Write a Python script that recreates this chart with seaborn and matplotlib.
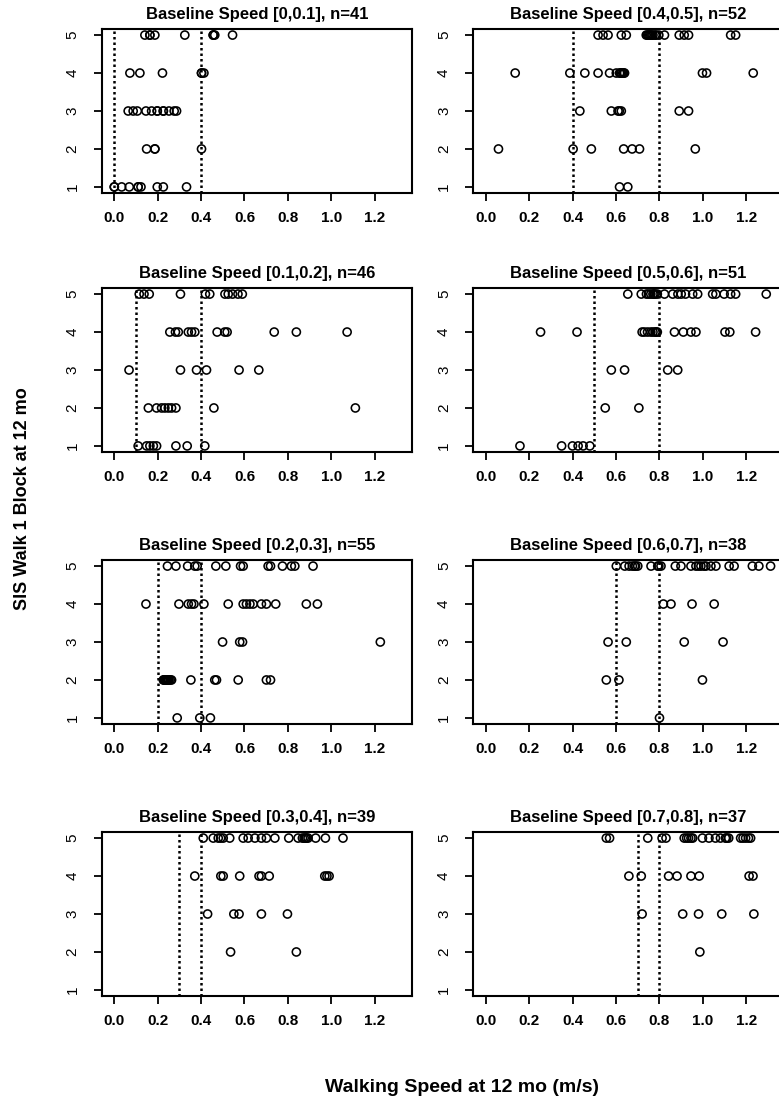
#Librerías
import pandas as pd
import numpy as np
import seaborn as sns
import matplotlib.pyplot as plt

sns.set_style("white")
plt.rcParams['font.family'] = ['Liberation Sans', 'DejaVu Sans']
plt.rcParams['text.color'] = 'black'
plt.rcParams['xtick.color'] = 'black'
plt.rcParams['ytick.color'] = 'black'

#Datos: velocidad a 12 meses por nivel SIS, por grupo de velocidad basal
# Baseline [0,0.1]
b1_sis5 = [0.141, 0.164, 0.164, 0.187, 0.325, 0.456, 0.456, 0.463, 0.545]
b1_sis4 = [0.072, 0.118, 0.222, 0.402, 0.402, 0.413]
b1_sis3 = [0.064, 0.087, 0.106, 0.146, 0.172, 0.198, 0.198, 0.226, 0.226, 0.252, 0.276, 0.287]
b1_sis2 = [0.149, 0.187, 0.187, 0.402]
b1_sis1 = [0.0, 0.0, 0.034, 0.069, 0.11, 0.11, 0.123, 0.198, 0.226, 0.333]

# Baseline [0.1,0.2]
b2_sis5 = [0.115, 0.137, 0.161, 0.305, 0.42, 0.44, 0.51, 0.525, 0.545, 0.57, 0.59]
b2_sis4 = [0.256, 0.282, 0.295, 0.341, 0.356, 0.371, 0.474, 0.509, 0.52, 0.737, 0.839, 1.073]
b2_sis3 = [0.068, 0.305, 0.379, 0.425, 0.575, 0.666]
b2_sis2 = [0.157, 0.195, 0.218, 0.233, 0.249, 0.264, 0.284, 0.459, 1.111]
b2_sis1 = [0.11, 0.149, 0.164, 0.18, 0.195, 0.284, 0.336, 0.417]

# Baseline [0.2,0.3]
b3_sis5 = [0.245, 0.284, 0.338, 0.371, 0.382, 0.468, 0.514, 0.582, 0.594, 0.709, 0.72, 0.775, 0.816, 0.832, 0.916]
b3_sis4 = [0.146, 0.298, 0.341, 0.356, 0.367, 0.413, 0.525, 0.594, 0.609, 0.625, 0.64, 0.678, 0.701, 0.744, 0.885, 0.936]
b3_sis3 = [0.499, 0.578, 0.591, 1.226]
b3_sis2 = [0.226, 0.229, 0.232, 0.235, 0.238, 0.242, 0.245, 0.249, 0.252, 0.258, 0.264, 0.353, 0.463, 0.471, 0.571, 0.701, 0.72]
b3_sis1 = [0.29, 0.394, 0.443]

# Baseline [0.3,0.4]
b4_sis5 = [0.41, 0.456, 0.479, 0.49, 0.502, 0.532, 0.594, 0.617, 0.648, 0.678, 0.701, 0.74, 0.804, 0.847, 0.867, 0.875, 0.882, 0.886, 0.893, 0.928, 0.973, 1.054]
b4_sis4 = [0.371, 0.491, 0.502, 0.578, 0.667, 0.678, 0.714, 0.97, 0.98, 0.99]
b4_sis3 = [0.43, 0.551, 0.575, 0.678, 0.798]
b4_sis2 = [0.536, 0.839]
b4_sis1 = []

# Baseline [0.4,0.5]
b5_sis5 = [0.517, 0.54, 0.563, 0.624, 0.647, 0.739, 0.745, 0.75, 0.755, 0.76, 0.765, 0.77, 0.78, 0.784, 0.797, 0.823, 0.891, 0.914, 0.934, 1.128, 1.151]
b5_sis4 = [0.135, 0.387, 0.456, 0.517, 0.57, 0.601, 0.616, 0.62, 0.625, 0.631, 0.635, 0.639, 0.998, 1.017, 1.232]
b5_sis3 = [0.433, 0.578, 0.609, 0.615, 0.624, 0.891, 0.934]
b5_sis2 = [0.058, 0.402, 0.486, 0.635, 0.674, 0.708, 0.965]
b5_sis1 = [0.616, 0.654]

# Baseline [0.5,0.6]
b6_sis5 = [0.654, 0.716, 0.74, 0.75, 0.76, 0.77, 0.775, 0.78, 0.79, 0.823, 0.861, 0.885, 0.9, 0.92, 0.953, 0.976, 1.045, 1.06, 1.098, 1.128, 1.151, 1.292]
b6_sis4 = [0.252, 0.42, 0.72, 0.73, 0.745, 0.76, 0.77, 0.78, 0.785, 0.79, 0.869, 0.91, 0.945, 0.968, 1.102, 1.124, 1.243]
b6_sis3 = [0.578, 0.639, 0.838, 0.884]
b6_sis2 = [0.55, 0.705]
b6_sis1 = [0.157, 0.349, 0.399, 0.425, 0.448, 0.479]

# Baseline [0.6,0.7]
b7_sis5 = [0.601, 0.64, 0.66, 0.675, 0.685, 0.69, 0.7, 0.761, 0.792, 0.797, 0.807, 0.873, 0.899, 0.945, 0.968, 0.98, 0.991, 1.005, 1.014, 1.037, 1.06, 1.121, 1.144, 1.228, 1.258, 1.312]
b7_sis4 = [0.818, 0.853, 0.95, 1.052]
b7_sis3 = [0.563, 0.647, 0.914, 1.093]
b7_sis2 = [0.555, 0.613, 0.998]
b7_sis1 = [0.8]

# Baseline [0.7,0.8]
b8_sis5 = [0.555, 0.57, 0.746, 0.812, 0.83, 0.914, 0.925, 0.934, 0.945, 0.953, 0.998, 1.028, 1.058, 1.081, 1.104, 1.11, 1.119, 1.174, 1.185, 1.197, 1.21, 1.22]
b8_sis4 = [0.659, 0.716, 0.842, 0.881, 0.945, 0.983, 1.213, 1.231]
b8_sis3 = [0.72, 0.907, 0.98, 1.087, 1.235]
b8_sis2 = [0.986]
b8_sis1 = []

grupos = ["[0,0.1]", "[0.1,0.2]", "[0.2,0.3]", "[0.3,0.4]",
          "[0.4,0.5]", "[0.5,0.6]", "[0.6,0.7]", "[0.7,0.8]"]
n_grupo = [41, 46, 55, 39, 52, 51, 38, 37]
linea_inf = [0.0, 0.1, 0.2, 0.3, 0.4, 0.5, 0.6, 0.7]
linea_sup = [0.4, 0.4, 0.4, 0.4, 0.8, 0.8, 0.8, 0.8]

niveles = [
    [b1_sis1, b1_sis2, b1_sis3, b1_sis4, b1_sis5],
    [b2_sis1, b2_sis2, b2_sis3, b2_sis4, b2_sis5],
    [b3_sis1, b3_sis2, b3_sis3, b3_sis4, b3_sis5],
    [b4_sis1, b4_sis2, b4_sis3, b4_sis4, b4_sis5],
    [b5_sis1, b5_sis2, b5_sis3, b5_sis4, b5_sis5],
    [b6_sis1, b6_sis2, b6_sis3, b6_sis4, b6_sis5],
    [b7_sis1, b7_sis2, b7_sis3, b7_sis4, b7_sis5],
    [b8_sis1, b8_sis2, b8_sis3, b8_sis4, b8_sis5],
]

#Armar un DataFrame largo
filas = []
for g, lista in zip(grupos, niveles):
    for sis, valores in enumerate(lista, start=1):
        for v in valores:
            filas.append({"grupo": g, "velocidad": v, "sis": sis})
datos = pd.DataFrame(filas)

#Figura: 4 filas x 2 columnas (la columna derecha queda cortada como en el original)
fig = plt.figure(figsize=(7.79, 11.03), dpi=100)
W, H = 779, 1103
izq = [101.7, 473.3]
tops = [29, 288, 560, 832]
ancho, alto = 310.3, 164

for i, g in enumerate(grupos):
    col = i // 4
    fila = i % 4
    ax = fig.add_axes([izq[col] / W, 1 - (tops[fila] + alto) / H, ancho / W, alto / H])
    sub = datos[datos["grupo"] == g]
    sns.scatterplot(data=sub, x="velocidad", y="sis", ax=ax, marker="o", s=34,
                    fc="none", ec="black", linewidth=1.15, zorder=3)
    ax.axvline(linea_inf[i], color="black", lw=1.8, ls=(0, (1, 1.2)), zorder=2)
    ax.axvline(linea_sup[i], color="black", lw=1.8, ls=(0, (1, 1.2)), zorder=2)
    ax.set_xlim(-0.058, 1.372)
    ax.set_ylim(0.84, 5.16)
    ax.set_xticks([0.0, 0.2, 0.4, 0.6, 0.8, 1.0, 1.2])
    ax.set_xticklabels(["0.0", "0.2", "0.4", "0.6", "0.8", "1.0", "1.2"], fontweight="bold", fontsize=11)
    ax.set_yticks([1, 2, 3, 4, 5])
    ax.set_yticklabels(["1", "2", "3", "4", "5"], rotation=90, fontsize=11, va="center")
    ax.tick_params(axis="both", bottom=True, left=True, direction="out",
                   length=6, width=1.3, color="black", labelcolor="black")
    ax.tick_params(axis="x", pad=7)
    ax.tick_params(axis="y", pad=10)
    for s in ax.spines.values():
        s.set_color("black")
        s.set_linewidth(1.5)
    ax.set_xlabel("")
    ax.set_ylabel("")
    ax.set_title("Baseline Speed " + g + ", n=" + str(n_grupo[i]),
                 fontweight="bold", fontsize=12, pad=7, color="black")

fig.text(462 / W, 1 - 1088 / H, "Walking Speed at 12 mo (m/s)", ha="center", va="center",
         fontsize=14, fontweight="bold", color="black")
fig.text(23 / W, 1 - 499 / H, "SIS Walk 1 Block at 12 mo", ha="center", va="center",
         rotation=90, fontsize=13, fontweight="bold", color="black")

fig.savefig("out.png", dpi=100)
